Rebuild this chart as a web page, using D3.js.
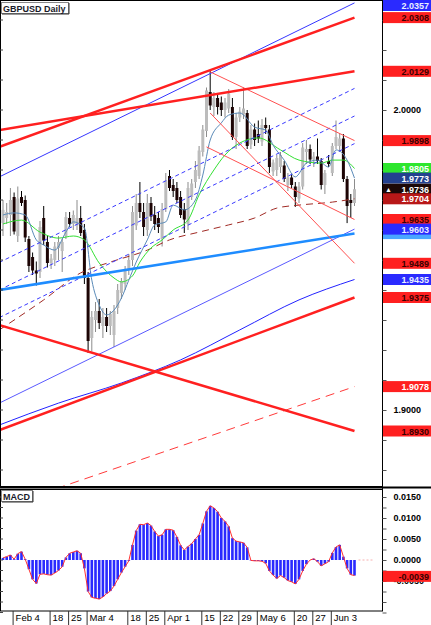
<!DOCTYPE html>
<html>
<head>
<meta charset="utf-8">
<script src="https://cdn.jsdelivr.net/npm/d3@7"></script>
<style>
  body { margin: 0; background: #fff; }
  svg { display: block; }
  text { font-family: "Liberation Sans", Arial, sans-serif; }
</style>
</head>
<body>
<svg id="chart" width="431" height="625"></svg>
<script>
// GBPUSD daily candles (bar index 0..95)
const opens  = [1.9623,1.9640,1.9650,1.9710,1.9580,1.9710,1.9700,1.9570,1.9510,1.9465,1.9460,1.9640,1.9560,1.9490,1.9500,1.9540,1.9530,1.9580,1.9640,1.9620,1.9615,1.9640,1.9600,1.9440,1.9240,1.9300,1.9330,1.9280,1.9310,1.9280,1.9250,1.9340,1.9390,1.9420,1.9470,1.9500,1.9615,1.9690,1.9660,1.9600,1.9690,1.9650,1.9640,1.9570,1.9670,1.9780,1.9750,1.9740,1.9710,1.9670,1.9620,1.9710,1.9760,1.9780,1.9860,1.9930,2.0060,2.0010,2.0040,2.0025,2.0000,2.0005,2.0010,1.9910,1.9975,1.9985,1.9990,1.9885,1.9935,1.9920,1.9895,1.9950,1.9935,1.9795,1.9800,1.9810,1.9815,1.9750,1.9775,1.9745,1.9705,1.9745,1.9860,1.9870,1.9835,1.9845,1.9830,1.9750,1.9830,1.9790,1.9880,1.9880,1.9905,1.9770,1.9700,1.9690];
const highs  = [1.9700,1.9690,1.9740,1.9725,1.9745,1.9730,1.9715,1.9580,1.9525,1.9495,1.9630,1.9680,1.9580,1.9520,1.9560,1.9580,1.9570,1.9660,1.9660,1.9665,1.9700,1.9680,1.9620,1.9460,1.9330,1.9360,1.9370,1.9340,1.9340,1.9330,1.9350,1.9420,1.9440,1.9480,1.9520,1.9680,1.9720,1.9760,1.9690,1.9720,1.9710,1.9680,1.9660,1.9690,1.9790,1.9800,1.9770,1.9760,1.9730,1.9690,1.9760,1.9770,1.9830,1.9880,1.9950,2.0075,2.0130,2.0060,2.0055,2.0045,2.0040,2.0070,2.0040,1.9990,2.0010,2.0075,2.0000,1.9950,1.9955,1.9965,1.9970,1.9975,1.9950,1.9835,1.9850,1.9860,1.9830,1.9790,1.9790,1.9760,1.9760,1.9890,1.9900,1.9885,1.9860,1.9905,1.9840,1.9800,1.9850,1.9890,1.9965,1.9920,1.9920,1.9780,1.9720,1.9770];
const lows   = [1.9580,1.9620,1.9580,1.9585,1.9560,1.9680,1.9560,1.9460,1.9450,1.9415,1.9440,1.9550,1.9475,1.9470,1.9480,1.9500,1.9460,1.9570,1.9610,1.9600,1.9600,1.9580,1.9420,1.9190,1.9195,1.9260,1.9270,1.9240,1.9260,1.9250,1.9210,1.9320,1.9370,1.9400,1.9450,1.9480,1.9600,1.9640,1.9580,1.9580,1.9630,1.9600,1.9590,1.9545,1.9660,1.9730,1.9710,1.9690,1.9640,1.9590,1.9600,1.9700,1.9740,1.9770,1.9845,1.9910,2.0000,1.9980,1.9985,1.9980,1.9975,1.9990,1.9900,1.9870,1.9960,1.9970,1.9870,1.9870,1.9880,1.9890,1.9880,1.9920,1.9790,1.9780,1.9780,1.9790,1.9760,1.9730,1.9740,1.9677,1.9690,1.9735,1.9820,1.9820,1.9810,1.9820,1.9735,1.9720,1.9810,1.9780,1.9870,1.9860,1.9760,1.9623,1.9640,1.9680];
const closes = [1.9667,1.9660,1.9700,1.9595,1.9705,1.9690,1.9575,1.9480,1.9465,1.9455,1.9610,1.9565,1.9490,1.9505,1.9545,1.9560,1.9560,1.9643,1.9620,1.9650,1.9640,1.9590,1.9440,1.9230,1.9310,1.9330,1.9290,1.9310,1.9280,1.9320,1.9330,1.9400,1.9430,1.9470,1.9500,1.9660,1.9690,1.9660,1.9610,1.9690,1.9645,1.9620,1.9610,1.9670,1.9765,1.9740,1.9730,1.9700,1.9650,1.9635,1.9740,1.9755,1.9800,1.9865,1.9935,2.0065,2.0015,2.0040,2.0010,2.0000,2.0025,2.0055,1.9910,1.9975,1.9995,2.0005,1.9880,1.9935,1.9900,1.9905,1.9950,1.9940,1.9810,1.9825,1.9840,1.9850,1.9770,1.9775,1.9750,1.9710,1.9745,1.9875,1.9870,1.9835,1.9845,1.9830,1.9750,1.9790,1.9820,1.9880,1.9910,1.9905,1.9770,1.9680,1.9690,1.9736];

// MACD histogram per bar
const macd = [0.0005,0.0008,0.0012,0.0002,0.0015,0.0020,0.0002,-0.0022,-0.0046,-0.0056,-0.0034,-0.0033,-0.0035,-0.0036,-0.0031,-0.0025,-0.0016,0.0006,0.0016,0.0019,0.0022,0.0016,-0.0020,-0.0075,-0.0089,-0.0091,-0.0093,-0.0088,-0.0080,-0.0074,-0.0062,-0.0046,-0.0030,-0.0016,-0.0002,0.0036,0.0070,0.0085,0.0084,0.0088,0.0082,0.0068,0.0057,0.0060,0.0073,0.0073,0.0071,0.0055,0.0035,0.0024,0.0032,0.0039,0.0050,0.0060,0.0087,0.0116,0.0129,0.0124,0.0115,0.0100,0.0092,0.0080,0.0052,0.0045,0.0043,0.0041,0.0030,-0.0001,-0.0002,-0.0002,-0.0003,-0.0008,-0.0026,-0.0036,-0.0044,-0.0037,-0.0042,-0.0049,-0.0052,-0.0057,-0.0046,-0.0026,-0.0010,0.0000,0.0003,-0.0004,-0.0014,-0.0009,-0.0004,0.0017,0.0031,0.0036,0.0008,-0.0020,-0.0035,-0.0037];

// moving averages, [bar index, price]
const maFast  = [[0,1.9650],[3,1.9657],[6,1.9650],[9,1.9567],[11,1.9550],[14,1.9533],[17,1.9593],[19,1.9627],[22,1.9607],[24,1.9433],[26,1.9350],[28,1.9317],[30,1.9333],[32,1.9373],[34,1.9433],[36,1.9493],[39,1.9567],[41,1.9617],[44,1.9627],[46,1.9683],[49,1.9667],[52,1.9700],[54,1.9783],[56,1.9900],[59,1.9957],[61,1.9983],[64,1.9990],[68,1.9943],[71,1.9933],[73,1.9883],[76,1.9833],[79,1.9777],[82,1.9823],[85,1.9833],[88,1.9810],[90,1.9867],[93,1.9833],[95,1.9773]];
const maGreen = [[0,1.9620],[5,1.9633],[10,1.9593],[15,1.9573],[19,1.9580],[22,1.9567],[26,1.9490],[30,1.9440],[32,1.9427],[35,1.9447],[37,1.9493],[40,1.9540],[43,1.9567],[46,1.9600],[50,1.9633],[53,1.9717],[57,1.9800],[60,1.9850],[64,1.9890],[69,1.9907],[75,1.9867],[80,1.9833],[86,1.9823],[89,1.9833],[92,1.9833],[95,1.9805]];
const maSlow  = [[-1,1.9267],[11,1.9367],[21,1.9457],[29,1.9493],[39,1.9533],[45,1.9567],[53,1.9593],[61,1.9617],[68,1.9640],[74,1.9673],[80,1.9683],[89,1.9693],[95,1.9704]];
const ma200   = [[-1,1.8950],[15,1.9023],[32,1.9090],[48,1.9167],[64,1.9267],[80,1.9367],[95,1.9435]];

// drawn lines, [bar index, price] end points
const channelTop    = [[-1,1.9777],[95,2.0357]];
const channelBottom = [[-1,1.9023],[95,1.9603]];
const channelMid    = [[-1,1.9400],[95,1.9980]];
const channelMidUp  = [[-1,1.9492],[95,2.0072]];
const channelMidDn  = [[-1,1.9308],[95,1.9888]];
const supportBlue   = [[-1,1.9400],[95,1.9588]];
const redUpper1     = [[-1,1.9877],[95,2.0308]];
const redUpper2     = [[-1,1.9933],[95,2.0129]];
const redLower      = [[-1,1.8933],[95,1.9375]];
const redFalling    = [[-1,1.9283],[95,1.8930]];
const redDashed     = [[-1,1.8673],[95,1.9078]];
const fanTop        = [[56,2.0127],[95,1.9898]];
const fanMid        = [[55,1.9877],[95,1.9635]];
const fanSteep      = [[56,1.9990],[95,1.9489]];

// axis labels
const weekLabels = ["Feb 4","18","25","Mar 4","18","25","Apr 1","15","22","29","May 6","20","27","Jun 3"];
const weekBars   = [3,13,18,23,34,39,44,54,59,64,69,79,84,89];
const priceLabelValues = [2.0, 1.9];
const macdLabelValues  = [0.015, 0.01, 0.005, 0, -0.005];

// price tags on the right scale
const tagValues = [1.9588,2.0357,2.0308,2.0129,1.9898,1.9805,1.9773,1.9736,1.9704,1.9635,1.9603,1.9489,1.9435,1.9375,1.9078,1.8930];
const tagKinds  = ["sky","blue","red","red","red","green","steel","bid","maroon","red","blue","red","blue","red","redWhite","red"];
const macdTagValue = -0.0039;

const svg = d3.select("#chart");
const W = 382, mainH = 487, macdTop = 489, macdBot = 611;

const x = d3.scaleLinear().domain([0, 95]).range([3, 354.5]);
const y = d3.scaleLinear().domain([1.9, 2.0]).range([410, 110]);
const m = d3.scaleLinear().domain([0, 0.015]).range([560, 497]);

const defs = svg.append("defs");
defs.append("clipPath").attr("id", "clipMain")
  .append("rect").attr("x", 0).attr("y", 0).attr("width", W).attr("height", mainH);
defs.append("clipPath").attr("id", "clipMacd")
  .append("rect").attr("x", 0).attr("y", macdTop).attr("width", W).attr("height", macdBot - macdTop);

const main = svg.append("g").attr("clip-path", "url(#clipMain)");

// candles
const bars = opens.map((o, i) => ({ i, o, h: highs[i], l: lows[i], c: closes[i] }));
main.append("g").selectAll("line").data(bars).join("line")
  .attr("x1", d => x(d.i)).attr("x2", d => x(d.i))
  .attr("y1", d => y(d.h)).attr("y2", d => y(d.l))
  .attr("stroke", d => d.c >= d.o ? "#8c8c8c" : "#000")
  .attr("stroke-width", 1);
main.append("g").selectAll("rect").data(bars).join("rect")
  .attr("x", d => x(d.i) - 1.5)
  .attr("width", 3)
  .attr("y", d => y(Math.max(d.o, d.c)))
  .attr("height", d => Math.max(1, Math.abs(y(d.o) - y(d.c))))
  .attr("fill", d => d.c >= d.o ? "#bcbcbc" : "#1c0404");

const curve = d3.line().x(d => x(d[0])).y(d => y(d[1])).curve(d3.curveMonotoneX);
const straight = d3.line().x(d => x(d[0])).y(d => y(d[1]));

function draw(g, pts, color, width, dash, gen) {
  g.append("path").attr("d", (gen || straight)(pts))
    .attr("fill", "none").attr("stroke", color).attr("stroke-width", width)
    .attr("stroke-dasharray", dash || null);
}

// moving averages
draw(main, ma200, "#2222ff", 1, null, curve);
draw(main, maSlow, "#a02a24", 1, "7,5", curve);
draw(main, redDashed, "#ff3a3a", 1, "9,6");
draw(main, maGreen, "#33e033", 1, null, curve);
draw(main, maFast, "#5a8ab8", 1, null, curve);

// channel
draw(main, channelTop, "#3636ff", 1);
draw(main, channelBottom, "#5a5aff", 1);
draw(main, channelMid, "#3a3aff", 1, "4,3");
draw(main, channelMidUp, "#3a3aff", 1, "4,3");
draw(main, channelMidDn, "#3a3aff", 1, "4,3");
draw(main, supportBlue, "#1e8cff", 2.5);

// red lines
draw(main, fanTop, "#ff5050", 1);
draw(main, fanMid, "#ff5050", 1);
draw(main, fanSteep, "#ff5050", 1);
draw(main, redUpper1, "#ff2020", 2.5);
draw(main, redUpper2, "#ff2020", 2.5);
draw(main, redLower, "#ff2020", 2.5);
draw(main, redFalling, "#ff2020", 2.5);

// MACD panel
const macdG = svg.append("g").attr("clip-path", "url(#clipMacd)");
macdG.append("g").selectAll("rect").data(macd).join("rect")
  .attr("x", (d, i) => x(i) - 1.3)
  .attr("width", 2.6)
  .attr("y", d => Math.min(m(d), m(0)))
  .attr("height", d => Math.abs(m(d) - m(0)))
  .attr("fill", "#2a2aff");
macdG.append("path")
  .attr("d", d3.line().x((d, i) => x(i)).y(d => m(d))(macd))
  .attr("fill", "none").attr("stroke", "#ff3030").attr("stroke-width", 1);
macdG.append("line").attr("x1", x(95) + 4).attr("x2", x(95) + 18).attr("y1", m(0)).attr("y2", m(0))
  .attr("stroke", "#f6b0b0").attr("stroke-dasharray", "2,2");

// frames
svg.append("rect").attr("x", 0.5).attr("y", 0.5).attr("width", W).attr("height", mainH - 1)
  .attr("fill", "none").attr("stroke", "#000");
svg.append("rect").attr("x", 0.5).attr("y", macdTop + 0.5).attr("width", W).attr("height", macdBot - macdTop - 0.5)
  .attr("fill", "none").attr("stroke", "#000");
svg.append("line").attr("x1", 0).attr("x2", 431).attr("y1", mainH + 0.5).attr("y2", mainH + 0.5)
  .attr("stroke", "#000").attr("stroke-width", 2);

// left edge marks
svg.append("g").selectAll("line").data(d3.range(188, 204).map(v => v / 100)).join("line")
  .attr("x1", 0).attr("x2", 3).attr("y1", d => y(d)).attr("y2", d => y(d)).attr("stroke", "#444");
svg.append("g").selectAll("line").data(d3.range(-5, 7).map(v => v * 0.0025)).join("line")
  .attr("x1", 0).attr("x2", 3).attr("y1", d => m(d)).attr("y2", d => m(d)).attr("stroke", "#444");

// right price axis
const fmt = d3.format(".4f");
const priceAxis = svg.append("g").attr("transform", `translate(${W + 0.5},0)`)
  .call(d3.axisRight(y).tickValues(d3.range(188, 204).map(v => v / 100)).tickSize(4).tickPadding(7)
    .tickFormat(d => priceLabelValues.some(v => Math.abs(v - d) < 1e-6) ? fmt(d) : ""));
priceAxis.select(".domain").attr("stroke", "#000").attr("d", `M0,0V${macdBot}`);

const macdAxis = svg.append("g").attr("transform", `translate(${W + 0.5},0)`)
  .call(d3.axisRight(m).tickValues(d3.range(-5, 7).map(v => v * 0.0025)).tickSize(4).tickPadding(7)
    .tickFormat(d => macdLabelValues.some(v => Math.abs(v - d) < 1e-9) ? fmt(d).replace("\u2212", "-") : ""));
macdAxis.select(".domain").remove();

[priceAxis, macdAxis].forEach(a => {
  a.selectAll(".tick line").attr("stroke", "#555");
  a.selectAll(".tick text").attr("font-size", 9).attr("font-weight", "bold").attr("fill", "#000")
    .attr("font-family", "Liberation Sans, Arial, sans-serif");
});

// price tags
const tagStyle = {
  sky:      { bg: "#49a6ff", fg: null },
  blue:     { bg: "#2a2aff", fg: "#e8f0ff" },
  red:      { bg: "#ff2020", fg: "#3a0000" },
  redWhite: { bg: "#ff2020", fg: "#fff" },
  green:    { bg: "#2ee62e", fg: "#fff" },
  steel:    { bg: "#23418f", fg: "#fff" },
  bid:      { bg: "#1c0808", fg: "#fff" },
  maroon:   { bg: "#b81818", fg: "#fff" }
};
const tags = svg.append("g");
function tag(yPos, label, st, arrow) {
  const yc = Math.max(5.5, yPos);
  tags.append("rect").attr("x", W + 1).attr("y", yc - 5.5).attr("width", 431 - W - 1).attr("height", 11)
    .attr("fill", st.bg);
  // the sky-blue tag is covered by the next one, only its edge shows
  if (!st.fg) return;
  tags.append("text").attr("x", 429).attr("y", yc + 3.5).attr("text-anchor", "end")
    .attr("font-size", 9).attr("font-weight", "bold").attr("fill", st.fg).text(label);
  if (arrow) {
    tags.append("text").attr("x", 385).attr("y", yc + 3).attr("font-size", 7)
      .attr("fill", "#fff").text("\u25B2");
  }
}
tagValues.forEach((v, k) => tag(y(v), fmt(v), tagStyle[tagKinds[k]], tagKinds[k] === "bid"));
tag(m(macdTagValue), fmt(macdTagValue).replace("\u2212", "-"), tagStyle.red, false);

// bottom time axis
const timeAxis = svg.append("g").attr("transform", `translate(0,${macdBot})`)
  .call(d3.axisBottom(x).tickValues(weekBars).tickSize(14).tickPadding(0)
    .tickFormat((d, i) => weekLabels[i]));
timeAxis.select(".domain").remove();
timeAxis.selectAll(".tick line").attr("stroke", "#333").attr("transform", "translate(-1.5,0)");
timeAxis.selectAll(".tick text")
  .attr("text-anchor", "start").attr("x", 1).attr("y", 3).attr("dy", "0.71em")
  .attr("font-size", 9.5).attr("fill", "#000")
  .attr("font-family", "DejaVu Sans, sans-serif");

// panel titles
function title(x0, y0, w, label) {
  svg.append("rect").attr("x", x0 + 0.5).attr("y", y0 + 0.5).attr("width", w).attr("height", 11)
    .attr("fill", "#fff").attr("stroke", "#888");
  svg.append("path").attr("d", `M${x0 + 1},${y0 + 12}H${x0 + w + 1}V${y0 + 1}`)
    .attr("fill", "none").attr("stroke", "#333");
  svg.append("text").attr("x", x0 + 2).attr("y", y0 + 9.5).attr("font-size", 9)
    .attr("font-weight", "bold").attr("fill", "#1a1a2a").text(label);
}
title(1, 2, 67, "GBPUSD Daily");
title(1, 490, 31, "MACD");
</script>
</body>
</html>
